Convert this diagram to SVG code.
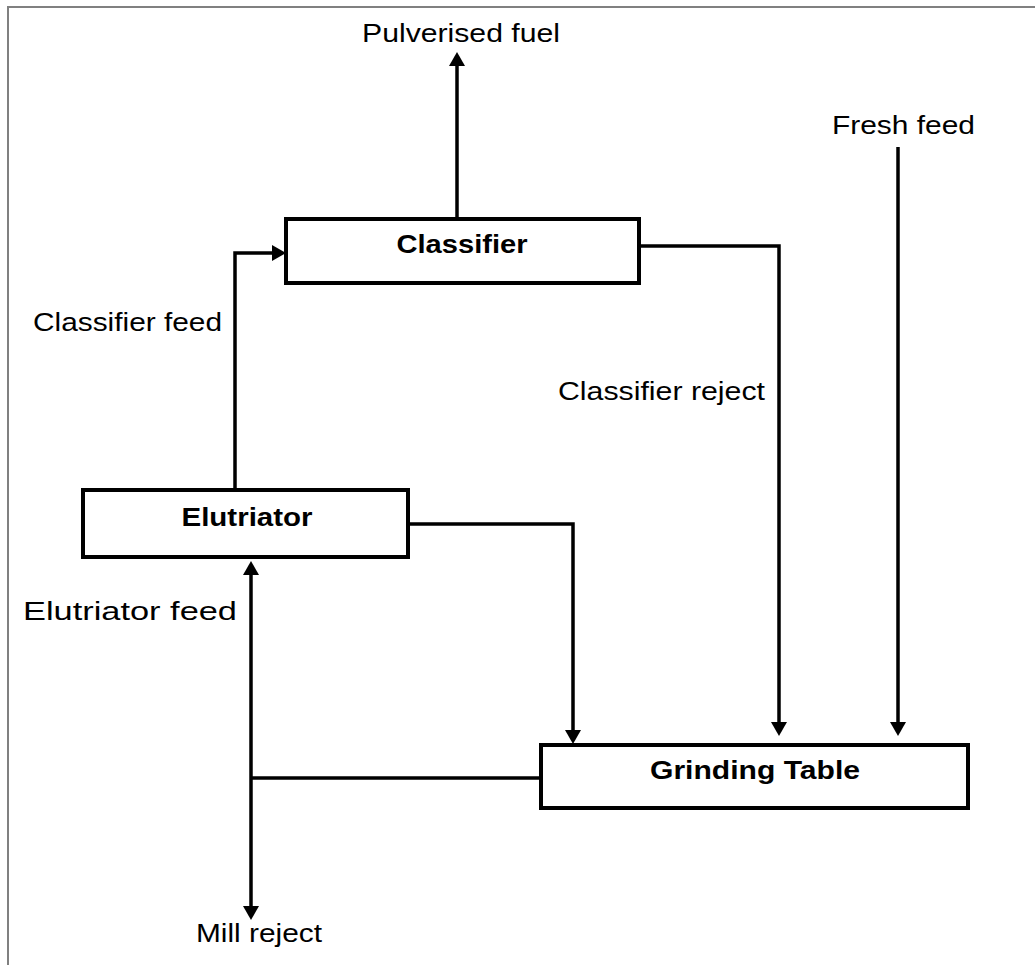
<svg xmlns="http://www.w3.org/2000/svg" width="1035" height="965" viewBox="0 0 1035 965">
  <style>
    .frame { fill: none; stroke: #808080; stroke-width: 2; }
    .box { fill: #ffffff; stroke: #000000; stroke-width: 4; }
    .conn { fill: none; stroke: #000000; stroke-width: 3.5; }
    .lbl { font-family: "Liberation Sans", Arial, sans-serif; font-size: 26px; fill: #000000; }
    .nlbl { font-family: "Liberation Sans", Arial, sans-serif; font-size: 26px; font-weight: bold; fill: #000000; text-anchor: middle; }
  </style>
  <defs>
    <marker id="arrow" markerUnits="userSpaceOnUse" markerWidth="16" markerHeight="16" refX="4" refY="8" orient="auto" viewBox="0 0 16 16">
      <path d="M0,0 L14,8 L0,16 Z" fill="#000000"/>
    </marker>
  </defs>
  <rect width="1035" height="965" fill="#ffffff"/>
  <path class="frame" d="M8,965 V7 H1035"/>

  <g id="connectors">
    <path class="conn" d="M457,219 V62" marker-end="url(#arrow)"/>
    <path class="conn" d="M235,490 V253 H276" marker-end="url(#arrow)"/>
    <path class="conn" d="M639,246 H779 V726" marker-end="url(#arrow)"/>
    <path class="conn" d="M898,147 V726" marker-end="url(#arrow)"/>
    <path class="conn" d="M408,524 H573 V734" marker-end="url(#arrow)"/>
    <path class="conn" d="M541,778 H251"/>
    <path class="conn" d="M251,778 V571" marker-end="url(#arrow)"/>
    <path class="conn" d="M251,778 V910" marker-end="url(#arrow)"/>
  </g>

  <g id="classifier">
    <rect class="box" x="286" y="219" width="353" height="64"/>
    <text class="nlbl" x="462" y="253" textLength="131" lengthAdjust="spacingAndGlyphs">Classifier</text>
  </g>
  <g id="elutriator">
    <rect class="box" x="83" y="490" width="325" height="67"/>
    <text class="nlbl" x="247" y="526" textLength="131" lengthAdjust="spacingAndGlyphs">Elutriator</text>
  </g>
  <g id="grinding-table">
    <rect class="box" x="541" y="745" width="427" height="63"/>
    <text class="nlbl" x="755" y="779" textLength="210" lengthAdjust="spacingAndGlyphs">Grinding Table</text>
  </g>

  <g id="labels">
    <text class="lbl" x="362" y="42" textLength="198" lengthAdjust="spacingAndGlyphs">Pulverised fuel</text>
    <text class="lbl" x="832" y="134" textLength="143" lengthAdjust="spacingAndGlyphs">Fresh feed</text>
    <text class="lbl" x="33" y="331" textLength="189" lengthAdjust="spacingAndGlyphs">Classifier feed</text>
    <text class="lbl" x="558" y="400" textLength="207" lengthAdjust="spacingAndGlyphs">Classifier reject</text>
    <text class="lbl" x="23" y="620" textLength="214" lengthAdjust="spacingAndGlyphs">Elutriator feed</text>
    <text class="lbl" x="196" y="942" textLength="126" lengthAdjust="spacingAndGlyphs">Mill reject</text>
  </g>
</svg>
